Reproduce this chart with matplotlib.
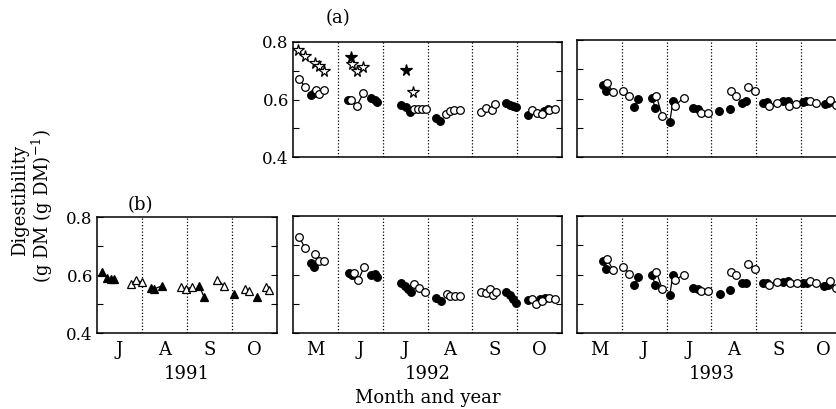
import numpy as np
import matplotlib.pyplot as plt

plt.rcParams['font.family'] = ['DejaVu Serif']
plt.rcParams['mathtext.fontset'] = 'dejavuserif'
plt.rcParams['font.size'] = 11

# x values are in months (5.0 = 1 May, 7.5 = mid July, ...)
# ---- (a) 1992 ----
a92_star_open_x = [5.12, 5.27, 5.49, 5.59, 5.69, 6.31, 6.43, 6.57, 7.68]
a92_star_open_y = [0.773, 0.750, 0.727, 0.715, 0.698, 0.723, 0.698, 0.712, 0.626]
a92_star_fill_x = [6.29, 7.53]
a92_star_fill_y = [0.748, 0.704]
a92_fill_x = [5.40, 5.46, 6.22, 6.75, 6.83, 6.88, 7.42, 7.52, 7.62, 8.20, 8.27,
              9.74, 9.83, 9.91, 9.98, 10.24, 10.60, 10.68]
a92_fill_y = [0.617, 0.623, 0.598, 0.605, 0.599, 0.591, 0.581, 0.573, 0.558, 0.536, 0.524,
              0.588, 0.582, 0.576, 0.574, 0.547, 0.561, 0.566]
a92_open_x = [5.14, 5.27, 5.52, 5.59, 5.69, 6.30, 6.42, 6.57, 7.70, 7.79, 7.88, 7.97,
              8.42, 8.50, 8.59, 8.72, 9.20, 9.31, 9.43, 9.50,
              10.32, 10.45, 10.56, 10.72, 10.84]
a92_open_y = [0.672, 0.643, 0.634, 0.619, 0.632, 0.598, 0.577, 0.622, 0.566, 0.568, 0.568, 0.566,
              0.550, 0.561, 0.565, 0.565, 0.557, 0.570, 0.565, 0.585,
              0.565, 0.553, 0.550, 0.565, 0.566]

# ---- (a) 1993 ----
a93_fill_x = [5.57, 5.65, 6.28, 6.37, 6.68, 6.74, 7.07, 7.14, 7.58, 7.71,
              8.16, 8.41, 8.69, 8.78, 9.14, 9.24, 9.60, 9.70, 10.03, 10.10, 10.53, 10.60]
a93_fill_y = [0.646, 0.624, 0.570, 0.599, 0.603, 0.567, 0.521, 0.590, 0.569, 0.563,
              0.556, 0.565, 0.586, 0.593, 0.584, 0.587, 0.590, 0.590, 0.587, 0.590, 0.580, 0.584]
a93_open_x = [5.67, 5.81, 6.03, 6.16, 6.77, 6.90, 7.19, 7.38, 7.76, 7.93,
              8.43, 8.54, 8.81, 8.98, 9.28, 9.45, 9.73, 9.89, 10.19, 10.34, 10.65, 10.78]
a93_open_y = [0.652, 0.622, 0.627, 0.609, 0.610, 0.539, 0.576, 0.603, 0.550, 0.550,
              0.624, 0.609, 0.638, 0.624, 0.573, 0.584, 0.575, 0.582, 0.593, 0.584, 0.595, 0.577]

# ---- (b) 1991 ----
b91_fill_x = [7.12, 7.23, 7.30, 7.38, 8.19, 8.27, 8.45, 9.27, 9.38, 10.05, 10.56]
b91_fill_y = [0.609, 0.589, 0.586, 0.586, 0.555, 0.552, 0.563, 0.563, 0.524, 0.535, 0.524]
b91_open_x = [7.75, 7.87, 7.99, 8.87, 8.97, 9.12, 9.67, 9.82, 10.29, 10.38, 10.75, 10.83]
b91_open_y = [0.569, 0.583, 0.575, 0.558, 0.552, 0.558, 0.584, 0.563, 0.552, 0.546, 0.558, 0.549]

# ---- (b) 1992 ----
b92_fill_x = [5.40, 5.47, 6.25, 6.31, 6.75, 6.83, 6.88, 7.42, 7.49, 7.57, 7.64,
              8.20, 8.31, 9.76, 9.83, 9.91, 9.98, 10.24, 10.50, 10.62]
b92_fill_y = [0.639, 0.624, 0.604, 0.597, 0.597, 0.601, 0.593, 0.570, 0.562, 0.551, 0.541,
              0.521, 0.509, 0.541, 0.530, 0.516, 0.504, 0.513, 0.515, 0.519]
b92_open_x = [5.14, 5.27, 5.49, 5.59, 5.69, 6.36, 6.46, 6.58, 7.69, 7.81, 7.94,
              8.44, 8.51, 8.61, 8.73, 9.20, 9.31, 9.39, 9.46, 9.52,
              10.33, 10.43, 10.55, 10.72, 10.84]
b92_open_y = [0.729, 0.689, 0.671, 0.645, 0.645, 0.604, 0.582, 0.624, 0.567, 0.555, 0.541,
              0.533, 0.525, 0.525, 0.525, 0.541, 0.536, 0.549, 0.530, 0.541,
              0.516, 0.500, 0.508, 0.518, 0.515]

# ---- (b) 1993 ----
b93_fill_x = [5.57, 5.65, 6.28, 6.37, 6.68, 6.74, 7.07, 7.14, 7.58, 7.71,
              8.18, 8.41, 8.68, 8.78, 9.14, 9.23, 9.60, 9.71, 10.04, 10.13, 10.51, 10.60]
b93_fill_y = [0.647, 0.619, 0.565, 0.590, 0.598, 0.565, 0.531, 0.598, 0.553, 0.549,
              0.533, 0.547, 0.570, 0.572, 0.572, 0.570, 0.576, 0.578, 0.570, 0.572, 0.561, 0.564]
b93_open_x = [5.67, 5.81, 6.03, 6.16, 6.77, 6.90, 7.19, 7.38, 7.76, 7.93,
              8.43, 8.54, 8.81, 8.98, 9.28, 9.45, 9.75, 9.90, 10.19, 10.34, 10.65, 10.78]
b93_open_y = [0.653, 0.614, 0.627, 0.603, 0.609, 0.551, 0.581, 0.600, 0.544, 0.544,
              0.610, 0.597, 0.636, 0.619, 0.564, 0.576, 0.570, 0.570, 0.578, 0.570, 0.578, 0.554]

months_91 = ['J', 'A', 'S', 'O']
months_92 = ['M', 'J', 'J', 'A', 'S', 'O']


def series(ax, x, y, marker, filled, ms=5.5, join=True):
    x = np.asarray(x)
    y = np.asarray(y)
    order = np.argsort(x)
    x, y = x[order], y[order]
    if join:
        # join points of the same sampling run (close in time)
        breaks = np.where(np.diff(x) > 0.2)[0] + 1
        for xs, ys in zip(np.split(x, breaks), np.split(y, breaks)):
            if len(xs) > 1:
                ax.plot(xs, ys, color='black', lw=0.9, zorder=2)
    ax.plot(x, y, ls='none', marker=marker, ms=ms, mec='black', mew=0.9,
            mfc='black' if filled else 'white', zorder=3)


def setup(ax, start, labels, ylabels):
    n = len(labels)
    ax.set_xlim(start, start + n)
    ax.set_ylim(0.4, 0.8)
    for m in range(1, n):
        ax.axvline(start + m, color='black', ls=(0, (1.0, 1.6)), lw=0.9, zorder=1)
    ax.set_xticks([start + m + 0.5 for m in range(n)])
    ax.set_xticklabels(labels, fontsize=13)
    ax.tick_params(axis='x', length=0, pad=6)
    ax.set_yticks([0.4, 0.5, 0.6, 0.7, 0.8])
    if ylabels:
        ax.set_yticklabels(['0.4', '', '0.6', '', '0.8'], fontsize=12)
    else:
        ax.set_yticklabels([])
    ax.tick_params(axis='y', direction='in', length=4, right=True, pad=3)
    for s in ax.spines.values():
        s.set_linewidth(1.1)


fig = plt.figure(figsize=(8.37, 4.09), dpi=100)
W, H = 837.0, 409.0


def box(l, t, r, b):
    return [l / W, 1 - b / H, (r - l) / W, (b - t) / H]


ax_a92 = fig.add_axes(box(293, 42, 562, 157))
ax_a93 = fig.add_axes(box(577, 40, 846, 157))
ax_b91 = fig.add_axes(box(97, 217, 277, 333))
ax_b92 = fig.add_axes(box(293, 216, 562, 333))
ax_b93 = fig.add_axes(box(577, 216, 846, 333))

setup(ax_a92, 5, months_92, True)
setup(ax_a93, 5, months_92, False)
setup(ax_b91, 7, months_91, True)
setup(ax_b92, 5, months_92, False)
setup(ax_b93, 5, months_92, False)
ax_a92.set_xticklabels([])
ax_a93.set_xticklabels([])

series(ax_a92, a92_star_open_x, a92_star_open_y, '*', False, ms=8.5, join=False)
series(ax_a92, a92_star_fill_x, a92_star_fill_y, '*', True, ms=8.5, join=False)
series(ax_a92, a92_fill_x, a92_fill_y, 'o', True)
series(ax_a92, a92_open_x, a92_open_y, 'o', False)

series(ax_a93, a93_fill_x, a93_fill_y, 'o', True)
series(ax_a93, a93_open_x, a93_open_y, 'o', False)

series(ax_b91, b91_fill_x, b91_fill_y, '^', True)
series(ax_b91, b91_open_x, b91_open_y, '^', False)

series(ax_b92, b92_fill_x, b92_fill_y, 'o', True)
series(ax_b92, b92_open_x, b92_open_y, 'o', False)

series(ax_b93, b93_fill_x, b93_fill_y, 'o', True)
series(ax_b93, b93_open_x, b93_open_y, 'o', False)

for ax, yr in [(ax_b91, '1991'), (ax_b92, '1992'), (ax_b93, '1993')]:
    ax.set_xlabel(yr, fontsize=13, labelpad=4)

fig.text(428 / W, 1 - 398 / H, 'Month and year', ha='center', va='center', fontsize=13)
fig.text(338 / W, 1 - 18 / H, '(a)', ha='center', va='center', fontsize=13)
fig.text(140 / W, 1 - 205 / H, '(b)', ha='center', va='center', fontsize=13)
fig.text(20 / W, 1 - 200 / H, 'Digestibility', rotation=90, ha='center', va='center', fontsize=13)
fig.text(42 / W, 1 - 206 / H, r'(g DM (g DM)$^{-1}$)', rotation=90, ha='center', va='center',
         fontsize=13)

fig.savefig('out.png', dpi=100)
